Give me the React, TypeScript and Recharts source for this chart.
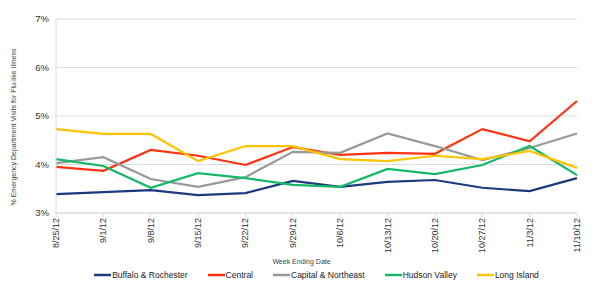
import React from "react";
import { LineChart, Line, XAxis, YAxis, CartesianGrid, Legend, Label } from "recharts";

// Week ending dates (x categories)
const weeks = [
  "8/25/12", "9/1/12", "9/8/12", "9/15/12", "9/22/12", "9/29/12",
  "10/6/12", "10/13/12", "10/20/12", "10/27/12", "11/3/12", "11/10/12",
];

// % of emergency department visits for flu-like illness, by region
const buffaloRochester = [3.39, 3.43, 3.47, 3.37, 3.41, 3.66, 3.54, 3.64, 3.68, 3.52, 3.45, 3.72];
const central = [3.95, 3.87, 4.30, 4.18, 3.99, 4.36, 4.20, 4.24, 4.22, 4.73, 4.48, 5.31];
const capitalNortheast = [4.03, 4.15, 3.70, 3.54, 3.74, 4.26, 4.24, 4.64, 4.38, 4.09, 4.34, 4.64];
const hudsonValley = [4.11, 3.97, 3.52, 3.82, 3.72, 3.58, 3.54, 3.91, 3.80, 3.99, 4.38, 3.78];
const longIsland = [4.73, 4.63, 4.63, 4.07, 4.38, 4.38, 4.11, 4.07, 4.18, 4.11, 4.28, 3.93];

const yTicks = [3, 4, 5, 6, 7];

const series = [
  { key: "buffalo", name: "Buffalo & Rochester", values: buffaloRochester, color: "#1b3a80" },
  { key: "central", name: "Central", values: central, color: "#ff3311" },
  { key: "capital", name: "Capital & Northeast", values: capitalNortheast, color: "#999999" },
  { key: "hudson", name: "Hudson Valley", values: hudsonValley, color: "#14b866" },
  { key: "longIsland", name: "Long Island", values: longIsland, color: "#ffc400" },
];

const data = weeks.map((week, i) => {
  const row: Record<string, string | number> = { week };
  series.forEach((s) => {
    row[s.key] = s.values[i];
  });
  return row;
});

const FONT = "'Liberation Sans', Arial, sans-serif";

const WeekTick = (props: any) => {
  const { x, y, payload } = props;
  return (
    <text
      transform={`translate(${x},${y}) rotate(-90)`}
      textAnchor="end"
      dy="0.33em"
      fontSize={9}
      fontFamily={FONT}
      fill="#333"
    >
      {payload.value}
    </text>
  );
};

const YLabel = (props: any) => {
  const vb = props.viewBox || { x: 0, y: 0, width: 0, height: 0 };
  const cx = 14;
  const cy = vb.y + vb.height / 2 + 11;
  return (
    <text
      transform={`translate(${cx},${cy}) rotate(-90)`}
      textAnchor="middle"
      dy="0.35em"
      fontSize={7}
      fontFamily={FONT}
      fill="#444"
    >
      % Emergency  Department Visits for Flu-like Illness
    </text>
  );
};

const LegendContent = () => (
  <div
    style={{
      display: "flex",
      justifyContent: "center",
      alignItems: "center",
      height: 20,
      fontFamily: FONT,
      fontSize: 8.5,
      color: "#222",
    }}
  >
    {series.map((s, i) => (
      <div
        key={s.key}
        style={{ display: "flex", alignItems: "center", marginLeft: i === 0 ? 0 : 20 }}
      >
        <svg width={17} height={4} style={{ marginRight: 1 }}>
          <line x1={0} y1={2} x2={17} y2={2} stroke={s.color} strokeWidth={2.5} />
        </svg>
        <span>{s.name}</span>
      </div>
    ))}
  </div>
);

export default function App() {
  return (
    <div style={{ position: "absolute", left: 0, top: 0, width: 600, height: 300, background: "#fff" }}>
      <LineChart
        width={600}
        height={300}
        data={data}
        margin={{ top: 19, right: 23, left: 0, bottom: 15 }}
      >
        <CartesianGrid vertical={false} stroke="#dcdcdc" strokeWidth={1} />
        <XAxis
          dataKey="week"
          height={52}
          interval={0}
          tick={<WeekTick />}
          tickSize={4}
          tickMargin={1}
          axisLine={{ stroke: "#dcdcdc" }}
          tickLine={{ stroke: "#dcdcdc" }}
        >
          <Label
            value="Week Ending Date"
            position="insideBottom"
            offset={1}
            dx={-15}
            fontSize={7}
            fontFamily={FONT}
            fill="#444"
          />
        </XAxis>
        <YAxis
          width={56}
          domain={[3, 7]}
          ticks={yTicks}
          tickFormatter={(v: number) => `${v}%`}
          tickLine={false}
          tickSize={0}
          tickMargin={7}
          axisLine={{ stroke: "#dcdcdc" }}
          tick={{ fontSize: 9.5, fontFamily: FONT, fill: "#333" }}
        >
          <Label content={<YLabel />} />
        </YAxis>
        <Legend
          verticalAlign="bottom"
          content={<LegendContent />}
          wrapperStyle={{ left: 56, width: 521 }}
        />
        {series.map((s) => (
          <Line
            key={s.key}
            type="linear"
            dataKey={s.key}
            name={s.name}
            stroke={s.color}
            strokeWidth={2.2}
            dot={false}
            activeDot={false}
            legendType="plainline"
            isAnimationActive={false}
          />
        ))}
      </LineChart>
    </div>
  );
}
